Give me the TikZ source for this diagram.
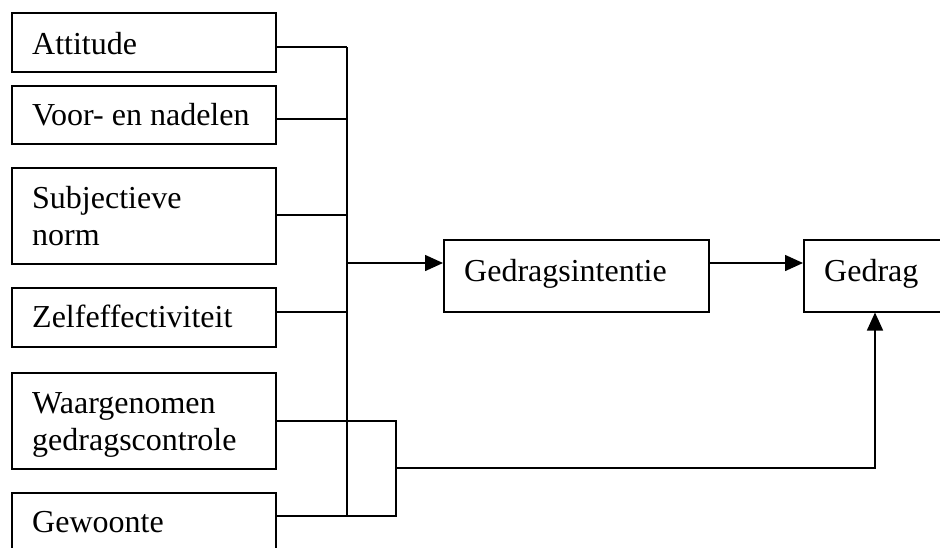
\documentclass[tikz,border=0pt]{standalone}
\usepackage{fontspec}
\setmainfont{Liberation Serif}
\usetikzlibrary{arrows.meta}
\begin{document}
\begin{tikzpicture}[x=1pt,y=-1pt,
  box/.style={draw=black,line width=1.5pt,inner sep=0pt,anchor=north west},
  txt/.style={anchor=base west,inner sep=0pt,align=left,font=\fontsize{32}{37}\selectfont},
  conn/.style={draw=black,line width=1.5pt},
  arr/.style={conn,-{Triangle[length=18pt,width=16pt]}}]
\useasboundingbox (0,0) rectangle (940,547);
\clip (0,0) rectangle (940,547);
% boxes
\node[box,minimum width=264pt,minimum height=59pt] (att) at (11,12) {};
\node[box,minimum width=264pt,minimum height=58pt] (voor) at (11,85) {};
\node[box,minimum width=264pt,minimum height=96pt] (subj) at (11,167) {};
\node[box,minimum width=264pt,minimum height=59pt] (zelf) at (11,287) {};
\node[box,minimum width=264pt,minimum height=96pt] (waar) at (11,372) {};
\node[box,minimum width=264pt,minimum height=70pt] (gew) at (11,492) {};
\node[box,minimum width=265pt,minimum height=72pt] (gi) at (443,239) {};
\node[box,minimum width=170pt,minimum height=72pt] (gd) at (803,239) {};
% texts
\node[txt] (attT) at (32,54) {Attitude};
\node[txt] (voorT) at (32,125) {Voor- en nadelen};
\node[txt] (subjT) at (32,245) {Subjectieve\\norm};
\node[txt] (zelfT) at (32,327) {Zelfeffectiviteit};
\node[txt] (waarT) at (32,450) {Waargenomen\\gedragscontrole};
\node[txt] (gewT) at (32,532) {Gewoonte};
\node[txt] (giT) at (464,281) {Gedragsintentie};
\node[txt] (gdT) at (824,281) {Gedrag};
% junctions
\coordinate (j1) at (347,47);
\coordinate (j2) at (347,119);
\coordinate (j3) at (347,215);
\coordinate (j4) at (347,312);
\coordinate (j5) at (347,263);
\coordinate (j6) at (347,516);
\coordinate (k1) at (396,421);
\coordinate (k2) at (396,516);
\coordinate (k3) at (396,468);
\coordinate (k4) at (875,468);
% connectors
\draw[conn] (att.east |- j1) -- (j1);
\draw[conn] (voor.east |- j2) -- (j2);
\draw[conn] (subj.east |- j3) -- (j3);
\draw[conn] (zelf.east |- j4) -- (j4);
\draw[conn] (j1) -- (j6);
\draw[conn] (waar.east |- k1) -- (k1) -- (k2) -- (gew.east |- k2);
\draw[arr] (j5) -- (gi.west |- j5);
\draw[arr] (gi.east |- j5) -- (gd.west |- j5);
\draw[arr] (k3) -- (k4) -- (k4 |- gd.south);
\end{tikzpicture}
\end{document}
